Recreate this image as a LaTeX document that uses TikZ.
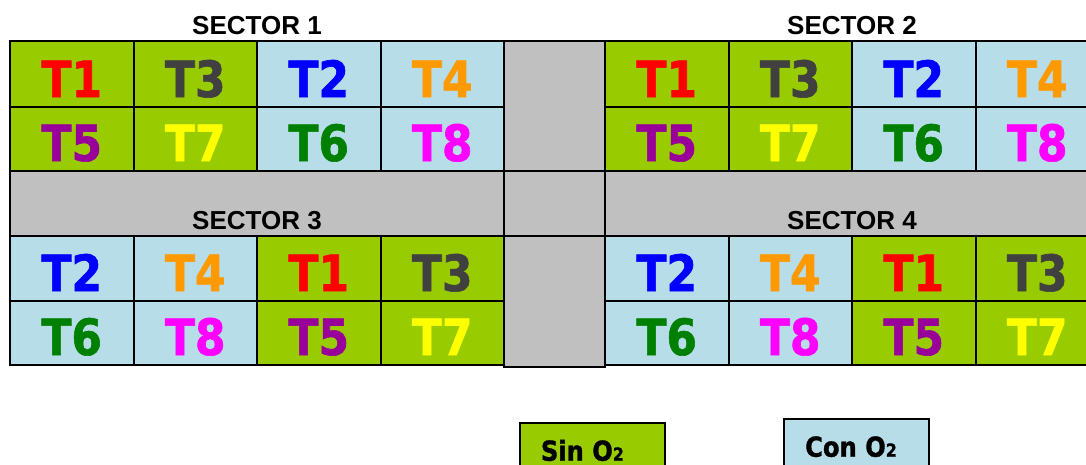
\documentclass[tikz,border=0pt]{standalone}
\usepackage{fontspec}
\newfontfamily\tfont[FakeStretch=0.88,FakeBold=1.2]{DejaVu Sans}
\newfontfamily\secfont{Liberation Sans}
\definecolor{gr}{HTML}{99CC00}
\definecolor{lb}{HTML}{B7DDE8}
\definecolor{gy}{HTML}{C0C0C0}
\definecolor{cR}{HTML}{FF0000}
\definecolor{cK}{HTML}{404040}
\definecolor{cB}{HTML}{0000FF}
\definecolor{cO}{HTML}{FF9900}
\definecolor{cP}{HTML}{990099}
\definecolor{cY}{HTML}{FFFF00}
\definecolor{cG}{HTML}{008000}
\definecolor{cM}{HTML}{FF00FF}
\tikzset{
  cellbox/.style={draw=black, line width=2pt, rectangle, inner sep=0pt, outer sep=0pt, minimum width=123.5pt, anchor=north west},
  graybox/.style={draw=black, line width=2pt, fill=gy, rectangle, inner sep=0pt, outer sep=0pt, anchor=north west},
  tlabel/.style={font=\tfont\bfseries\fontsize{50}{50}\selectfont, inner sep=0pt, anchor=base},
  seclabel/.style={font=\secfont\bfseries\fontsize{26}{26}\selectfont, inner sep=0pt, anchor=base},
  legbox/.style={draw=black, line width=2pt, rectangle, inner sep=0pt, outer sep=0pt, minimum width=145pt, minimum height=70pt, anchor=north west},
  legtext/.style={font=\tfont\bfseries\fontsize{27.5}{27.5}\selectfont, inner sep=0pt, anchor=base west}
}
\newcommand\mkcell[7]{%
  \node[cellbox, fill=#5, minimum height=#4pt] (#1) at (#2,#3) {};
  \node[tlabel, text=#7] (#1t) at (#2+61.75,#3+#4-10) {#6};
}
\begin{document}
\begin{tikzpicture}[x=1pt,y=-1pt]
\useasboundingbox (0,0) rectangle (1086,464);
\clip (0,0) rectangle (1086,464);
% gray bands and centre column
\node[graybox, minimum width=494pt, minimum height=65pt] (bandL) at (10,171) {};
\node[graybox, minimum width=494pt, minimum height=65pt] (bandR) at (605,171) {};
\node[graybox, minimum width=101pt, minimum height=130pt] (colT) at (504,41) {};
\node[graybox, minimum width=101pt, minimum height=65pt] (colM) at (504,171) {};
\node[graybox, minimum width=101pt, minimum height=130.5pt] (colB) at (504,236) {};
% sectors
\foreach \X/\S in {10/1,605/2} {
  \foreach \i/\f/\t/\c in {0/gr/T1/cR,1/gr/T3/cK,2/lb/T2/cB,3/lb/T4/cO} {
    \mkcell{s\S a\i}{\X+123.5*\i}{41}{66}{\f}{\t}{\c}
  }
  \foreach \i/\f/\t/\c in {0/gr/T5/cP,1/gr/T7/cY,2/lb/T6/cG,3/lb/T8/cM} {
    \mkcell{s\S b\i}{\X+123.5*\i}{107}{64}{\f}{\t}{\c}
  }
  \foreach \i/\f/\t/\c in {0/lb/T2/cB,1/lb/T4/cO,2/gr/T1/cR,3/gr/T3/cK} {
    \mkcell{s\S c\i}{\X+123.5*\i}{236}{65}{\f}{\t}{\c}
  }
  \foreach \i/\f/\t/\c in {0/lb/T6/cG,1/lb/T8/cM,2/gr/T5/cP,3/gr/T7/cY} {
    \mkcell{s\S d\i}{\X+123.5*\i}{301}{64}{\f}{\t}{\c}
  }
}
% sector titles
\node[seclabel] (sec1) at (257,34) {SECTOR 1};
\node[seclabel] (sec2) at (852,34) {SECTOR 2};
\node[seclabel] (sec3) at (257,229.3) {SECTOR 3};
\node[seclabel] (sec4) at (852,229.3) {SECTOR 4};
% legend
\node[legbox, fill=gr] (sin) at (520,422.7) {};
\node[legtext] (sint) at (540.7,460.7) {Sin O{\fontsize{18}{18}\selectfont 2}};
\node[legbox, fill=lb] (con) at (784,419.3) {};
\node[legtext] (cont) at (805,456.7) {Con O{\fontsize{18}{18}\selectfont 2}};
\end{tikzpicture}
\end{document}
